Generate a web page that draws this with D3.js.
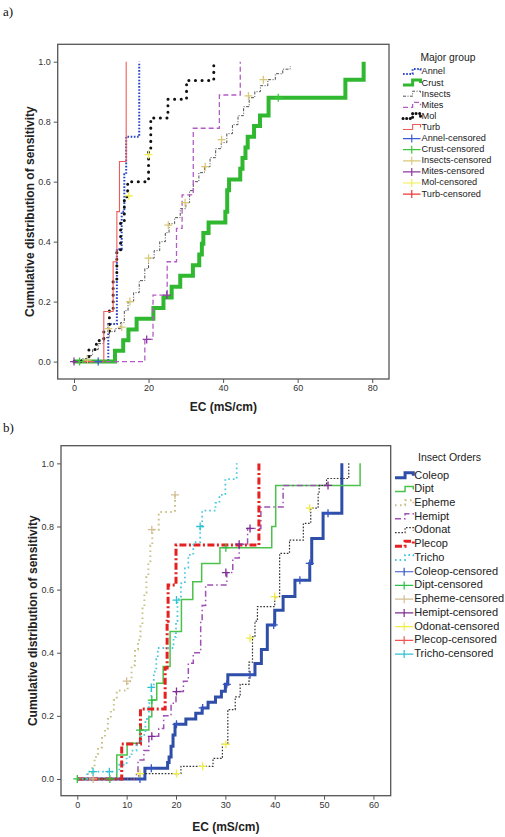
<!DOCTYPE html>
<html><head><meta charset="utf-8">
<script src="https://cdn.jsdelivr.net/npm/d3@7"></script>
<style>body{margin:0;background:#fff}svg{display:block}</style>
</head><body><svg id="c" width="505" height="837"></svg>
<script>
// ---------------- DATA : panel a (Major group) ----------------
const groupsA = ["Annel","Crust","Insects","Mites","Mol","Turb"];
const xTicksA = [0,20,40,60,80];
const yTicks = [0,0.2,0.4,0.6,0.8,1.0];

const annelSteps = [[0,0],[9.2,0.125],[11.5,0.375],[12.8,0.5],[13.5,0.625],[14,0.75],[17.5,1.0]];
const crustSteps = [[0,0],[11,0.036],[13.2,0.071],[14.6,0.107],[16.8,0.143],[21.3,0.179],[24,0.214],[26.2,0.25],[28.5,0.286],[31.9,0.321],[33.6,0.357],[34.3,0.393],[34.7,0.429],[36.1,0.464],[40.6,0.5],[41.1,0.571],[41.6,0.607],[44.6,0.643],[45.2,0.679],[46,0.714],[46.6,0.75],[48.3,0.786],[49.9,0.821],[52.2,0.88],[72.8,0.94],[77.7,1.0]];
const insectsSteps = [[0,0],[2,0.01],[3.5,0.02],[5,0.04],[6.5,0.06],[8,0.08],[9.5,0.1],[11,0.11],[12.5,0.13],[13.5,0.17],[14.5,0.2],[16,0.23],[17.5,0.27],[19,0.31],[20,0.345],[21.5,0.37],[23,0.4],[24.5,0.43],[25.5,0.46],[27,0.48],[28.5,0.51],[30,0.53],[31,0.57],[32,0.6],[33.5,0.63],[35,0.65],[36.5,0.68],[38,0.71],[39.5,0.73],[41,0.76],[42.5,0.79],[44,0.82],[45.5,0.85],[47,0.88],[48.5,0.9],[50,0.92],[52,0.94],[54,0.96],[56,0.975],[58,0.985]];
const mitesSteps = [[0,0],[19,0.074],[21.2,0.222],[25,0.333],[27.5,0.444],[29,0.556],[32,0.778],[39,0.889],[44.6,1.0]];
const molSteps = [[0,0],[4,0.04],[6,0.07],[8,0.1],[9.5,0.17],[10.5,0.27],[11.5,0.37],[12.5,0.47],[13.5,0.55],[14.4,0.6],[20,0.7],[20.6,0.8125],[25.2,0.875],[30.2,0.9375],[37.5,1.0]];
const turbSteps = [[0,0],[8,0.167],[10.5,0.333],[11.5,0.5],[12.2,0.667],[14,1.0]];

const annelCens = [[6.5,0]];
const crustCens = [[1.5,0],[54.8,0.88]];
const insectsCens = [[3.6,0.005],[9.2,0.11],[12.8,0.115],[15,0.2],[20,0.345],[25.3,0.455],[29.8,0.53],[35.2,0.65],[39.6,0.74],[46.8,0.886],[50.8,0.94]];
const mitesCens = [[0,0],[19.5,0.074],[24.9,0.222]];
const molCens = [[14.7,0.553],[20,0.69]];
const turbCens = [];

// ---------------- DATA : panel b (Insect Orders) ----------------
const ordersB = ["Coleop","Dipt","Epheme","Hemipt","Odonat","Plecop","Tricho"];
const xTicksB = [0,10,20,30,40,50,60];

const coleopSteps = [[0,0],[13.7,0.034],[18.3,0.052],[18.6,0.07],[19,0.104],[19.4,0.139],[19.8,0.173],[22,0.19],[24,0.208],[25.3,0.225],[26.5,0.243],[28,0.26],[29.2,0.278],[30,0.3],[30.5,0.33],[36,0.366],[37.3,0.41],[38.5,0.488],[40,0.535],[41.7,0.578],[44.1,0.63],[47.1,0.683],[47.5,0.762],[49.8,0.842],[53.6,1.0]];
const diptSteps = [[0,0],[8,0.076],[10.1,0.113],[12.7,0.155],[14.5,0.197],[15.1,0.25],[16.1,0.303],[17.4,0.356],[18.8,0.467],[21.1,0.569],[23.4,0.625],[25.2,0.683],[28.9,0.733],[39.4,0.8],[40.2,0.93],[57.3,1.0]];
const ephemeSteps = [[0,0],[2.2,0.02],[3,0.04],[3.5,0.07],[4.2,0.1],[5,0.13],[5.6,0.16],[6.2,0.19],[6.8,0.22],[7.4,0.25],[8,0.28],[10.2,0.31],[11,0.36],[11.7,0.41],[12.3,0.44],[12.8,0.49],[13.2,0.54],[13.6,0.59],[14,0.64],[14.4,0.69],[14.8,0.74],[15.2,0.79],[16.5,0.846],[19.8,0.9]];
const hemiptSteps = [[0,0],[12,0.02],[12.3,0.06],[13.5,0.09],[14.5,0.135],[16.5,0.16],[17.5,0.2],[19,0.24],[20,0.277],[21.5,0.31],[22.5,0.367],[23.5,0.4],[25,0.5],[25.3,0.55],[26,0.615],[30.3,0.654],[31.5,0.7],[32.8,0.744],[34.5,0.794],[37.2,0.862],[41.7,0.93],[50.8,0.93]];
const odonatSteps = [[0,0],[12.5,0.017],[21,0.04],[27.5,0.065],[29.4,0.11],[30.5,0.22],[32,0.26],[33,0.3],[34.8,0.37],[35.5,0.45],[36,0.5],[36.5,0.546],[40,0.578],[41,0.715],[43,0.757],[45.8,0.81],[47.3,0.858],[48.8,0.905],[49,0.93],[50.5,0.952],[55,1.0]];
const plecopSteps = [[0,0],[9,0.111],[12.8,0.222],[17.8,0.352],[18.2,0.5],[18.4,0.615],[20,0.741],[36.8,1.0]];
const trichoSteps = [[0,0],[2,0.023],[8.5,0.045],[10,0.07],[11,0.09],[12,0.115],[13,0.14],[13.8,0.19],[14.5,0.24],[15,0.29],[15.5,0.34],[16,0.38],[16.3,0.415],[19.5,0.45],[20,0.5],[20.3,0.57],[21,0.62],[21.8,0.67],[22.5,0.71],[23.5,0.75],[24.9,0.8],[25.3,0.85],[28,0.875],[28.8,0.9],[30,0.95],[32.3,1.0]];

const coleopCens = [[12.7,0],[15,0.034],[20.1,0.173],[25.4,0.225],[30.3,0.3],[35,0.33],[39.8,0.488],[45.1,0.63],[47.1,0.683],[50.8,0.842]];
const diptCens = [[0,0],[6.6,0],[12.7,0.155],[15.1,0.25],[30.1,0.733]];
const ephemeCens = [[3.2,0],[10,0.31],[15.1,0.79],[19.8,0.9]];
const hemiptCens = [[15.1,0.135],[20.1,0.277],[30.1,0.654],[32.8,0.744],[35,0.794],[50.8,0.93]];
const odonatCens = [[12.7,0.017],[20.1,0.017],[25.4,0.04],[30.1,0.11],[35,0.446],[40,0.578],[47.1,0.858]];
const plecopCens = [];
const trichoCens = [[3.2,0.023],[6.5,0.023],[15,0.29],[20.1,0.567],[24.9,0.8]];

// ---------------- STYLES / LAYOUT ----------------
const stylesA = {
  Annel:  {color:"#2a44c8", width:2,   dash:"1.6,1.6", cens:"#3b5bd6"},
  Crust:  {color:"#30b830", width:4,   dash:null,      cens:"#3cc83c"},
  Insects:{color:"#505050", width:1,   dash:"3,1.5,1,1.5", cens:"#d8c878"},
  Mites:  {color:"#b45cc6", width:1.3, dash:"5,3",     cens:"#8a3aa0"},
  Mol:    {color:"#111111", width:3,   dash:"0.1,6.5", cap:"round", cens:"#f2ee55"},
  Turb:   {color:"#f05a5a", width:1.1, dash:null,      cens:"#f03838"}
};
const stylesB = {
  Coleop: {color:"#2e4ea8", width:3,   dash:null,          cens:"#3654c4"},
  Dipt:   {color:"#4cc24c", width:1.5, dash:null,          cens:"#2fbf45"},
  Epheme: {color:"#c9c38a", width:2,   dash:"1.6,3.4",     cens:"#d2bf95"},
  Hemipt: {color:"#a050b4", width:1.5, dash:"6,3,1.5,3",   cens:"#7e2e92"},
  Odonat: {color:"#333333", width:1.2, dash:"1.6,1.6",     cens:"#f0ec48"},
  Plecop: {color:"#e42020", width:3,   dash:"7,2.5,2,2.5", cens:"#f05656"},
  Tricho: {color:"#48c8de", width:1.8, dash:"1.6,3",       cens:"#2fc2d2"}
};
const stepsA = {Annel:annelSteps,Crust:crustSteps,Insects:insectsSteps,Mites:mitesSteps,Mol:molSteps,Turb:turbSteps};
const censA  = {Annel:annelCens,Crust:crustCens,Insects:insectsCens,Mites:mitesCens,Mol:molCens,Turb:turbCens};
const stepsB = {Coleop:coleopSteps,Dipt:diptSteps,Epheme:ephemeSteps,Hemipt:hemiptSteps,Odonat:odonatSteps,Plecop:plecopSteps,Tricho:trichoSteps};
const censB  = {Coleop:coleopCens,Dipt:diptCens,Epheme:ephemeCens,Hemipt:hemiptCens,Odonat:odonatCens,Plecop:plecopCens,Tricho:trichoCens};

const layoutA = {left:57.7,right:389,top:44.3,bottom:379,xDomain:[-4.37,84.5],yDomain:[-0.058,1.058],
  xTicks:xTicksA, label:"a)", labelY:16, xTitleY:411, yTitleX:31,
  legend:{title:"Major group", titleX:448, titleY:61, x0:403, textX:421.5, y0:72, dy:11.1, font:9.2, titleFont:10.3}};
const layoutB = {left:61,right:390.7,top:445.7,bottom:795.7,xDomain:[-3.3,63.5],yDomain:[-0.053,1.056],
  xTicks:xTicksB, label:"b)", labelY:432, xTitleY:831, yTitleX:34,
  legend:{title:"Insect Orders", titleX:449.5, titleY:460.5, x0:395, textX:414.3, y0:475.7, dy:13.72, font:11, titleFont:10.5}};

const FONT = "Arial, 'Liberation Sans', sans-serif";
const svg = d3.select("#c");

function drawPanel(L, names, steps, cens, styles) {
  const x = d3.scaleLinear().domain(L.xDomain).range([L.left, L.right]);
  const y = d3.scaleLinear().domain(L.yDomain).range([L.bottom, L.top]);
  const g = svg.append("g");

  const ax = g.append("g").attr("transform", `translate(0,${L.bottom})`)
    .call(d3.axisBottom(x).tickValues(L.xTicks).tickSize(4).tickPadding(2).tickFormat(d3.format("d")));
  const ay = g.append("g").attr("transform", `translate(${L.left},0)`)
    .call(d3.axisLeft(y).tickValues(yTicks).tickSize(4).tickPadding(3).tickFormat(d3.format(".1f")));
  [ax, ay].forEach(a => {
    a.select(".domain").remove();
    a.selectAll("line").attr("stroke", "#555");
    a.selectAll("text").attr("font-size", 9).attr("fill", "#333").attr("font-family", FONT);
  });

  g.append("rect").attr("x", L.left).attr("y", L.top)
    .attr("width", L.right - L.left).attr("height", L.bottom - L.top)
    .attr("fill", "none").attr("stroke", "#555").attr("stroke-width", 1.3);

  const line = d3.line().x(d => x(d[0])).y(d => y(d[1])).curve(d3.curveStepAfter);
  names.forEach(n => {
    const s = styles[n];
    g.append("path").datum(steps[n]).attr("d", line)
      .attr("fill", "none").attr("stroke", s.color).attr("stroke-width", s.width)
      .attr("stroke-dasharray", s.dash).attr("stroke-linecap", s.cap || "butt");
  });
  const sz = 4;
  names.forEach(n => {
    g.selectAll(null).data(cens[n]).enter().append("path")
      .attr("d", d => `M${x(d[0]) - sz},${y(d[1])}h${2 * sz}M${x(d[0])},${y(d[1]) - sz}v${2 * sz}`)
      .attr("stroke", styles[n].cens).attr("stroke-width", 1.3).attr("fill", "none");
  });

  // titles
  g.append("text").attr("x", 3).attr("y", L.labelY).text(L.label)
    .attr("font-family", "'Liberation Serif','Times New Roman',serif").attr("font-size", 13).attr("fill", "#111");
  g.append("text").attr("x", (L.left + L.right) / 2).attr("y", L.xTitleY).attr("text-anchor", "middle")
    .attr("font-family", FONT).attr("font-weight", "bold").attr("font-size", 12).attr("fill", "#222").text("EC (mS/cm)");
  g.append("text").attr("transform", `translate(${L.yTitleX},${(L.top + L.bottom) / 2}) rotate(-90)`)
    .attr("text-anchor", "middle").attr("dominant-baseline", "middle")
    .attr("font-family", FONT).attr("font-weight", "bold").attr("font-size", 12).attr("fill", "#222")
    .text("Cumulative distribution of sensitivity");

  // legend
  const lg = L.legend;
  g.append("text").attr("x", lg.titleX).attr("y", lg.titleY).attr("text-anchor", "middle")
    .attr("font-family", FONT).attr("font-size", lg.titleFont).attr("fill", "#222").text(lg.title);
  const items = names.map(n => ({name: n, kind: "line"})).concat(names.map(n => ({name: n, kind: "cens"})));
  items.forEach((it, i) => {
    const yy = lg.y0 + i * lg.dy;
    const s = styles[it.name];
    const w = lg.textX - lg.x0 - 1;
    if (it.kind === "line") {
      g.append("path").attr("d", `M${lg.x0},${yy + 2}H${lg.x0 + w * 0.55}V${yy - 3}H${lg.x0 + w}V${yy}`)
        .attr("fill", "none").attr("stroke", s.color).attr("stroke-width", Math.min(s.width, 3))
        .attr("stroke-dasharray", s.dash ? (s.cap ? "0.1,3.5" : s.dash) : null)
        .attr("stroke-linecap", s.cap || "butt");
    } else {
      g.append("path").attr("d", `M${lg.x0},${yy}H${lg.x0 + w}M${lg.x0 + w / 2},${yy - 4}V${yy + 4}`)
        .attr("stroke", s.cens).attr("stroke-width", 1.2).attr("fill", "none");
    }
    g.append("text").attr("x", lg.textX).attr("y", yy).attr("dominant-baseline", "middle")
      .attr("font-family", FONT).attr("font-size", lg.font).attr("fill", "#222")
      .text(it.kind === "line" ? it.name : it.name + "-censored");
  });
}

drawPanel(layoutA, groupsA, stepsA, censA, stylesA);
drawPanel(layoutB, ordersB, stepsB, censB, stylesB);
</script></body></html>
